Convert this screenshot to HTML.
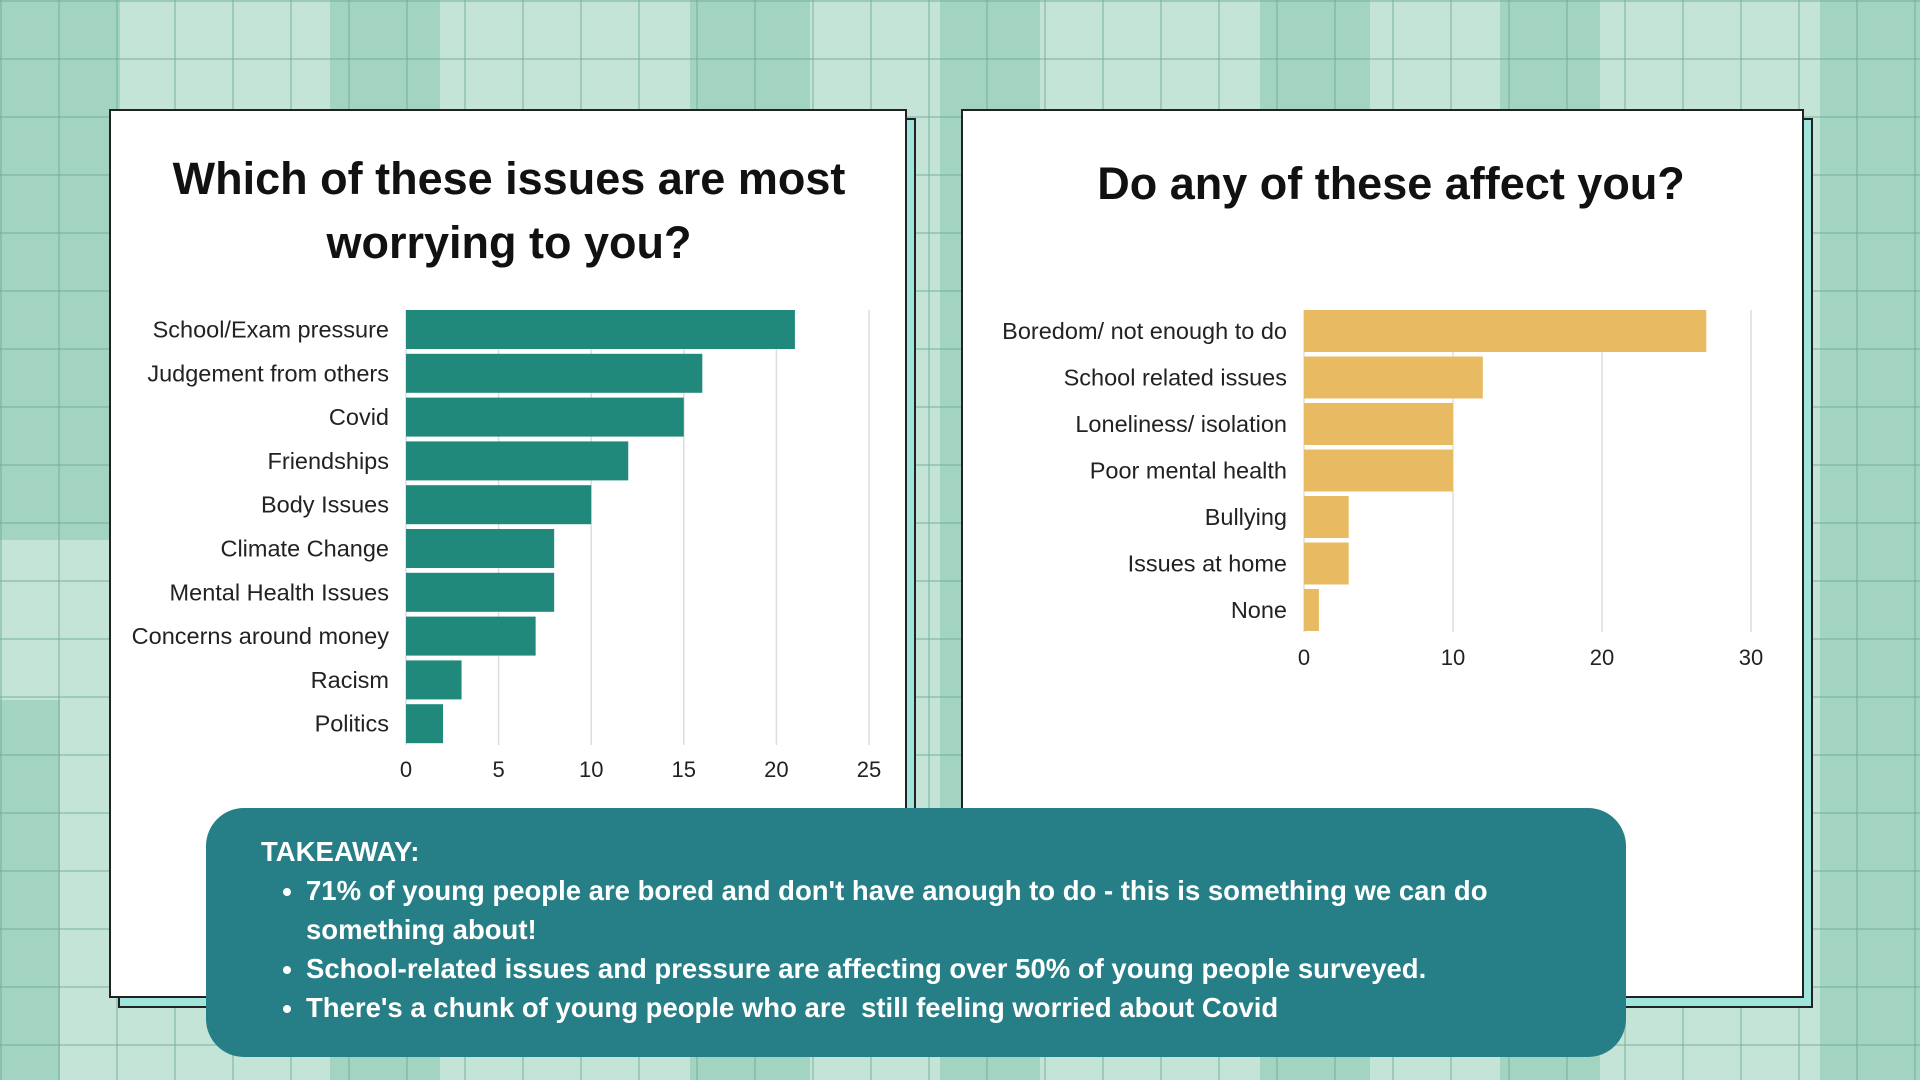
<!DOCTYPE html>
<html><head><meta charset="utf-8"><style>
body{margin:0;width:1920px;height:1080px;overflow:hidden;font-family:"Liberation Sans",sans-serif;}
#bg{position:absolute;left:0;top:0;width:1920px;height:1080px;background:#c4e4d8;}
.stripe{position:absolute;background:#a3d4c2;}
#grid{position:absolute;left:0;top:0;width:1920px;height:1080px;background-image:linear-gradient(to right,rgba(110,170,150,.45) 2px,transparent 2px),linear-gradient(to bottom,rgba(110,170,150,.45) 2px,transparent 2px);background-size:58px 58px;}
.shadow{position:absolute;background:#9fe5dc;border:2px solid #222;}
.panel{position:absolute;background:#fff;border:2px solid #222;}
.title{position:absolute;font-weight:bold;color:#111;text-align:center;font-size:45px;line-height:64px;}
svg text{font-family:"Liberation Sans",sans-serif;}
#take{position:absolute;left:206px;top:808px;width:1420px;height:249px;background:#267f87;border-radius:38px;color:#fff;font-weight:bold;font-size:27.5px;}
#take li{line-height:39px;}
</style></head><body>
<div id="bg">
<div class="stripe" style="left:0;top:0;width:120px;height:540px"></div>
<div class="stripe" style="left:330px;top:0;width:110px;height:1080px"></div>
<div class="stripe" style="left:690px;top:0;width:120px;height:1080px"></div>
<div class="stripe" style="left:940px;top:0;width:100px;height:1080px"></div>
<div class="stripe" style="left:1260px;top:0;width:110px;height:1080px"></div>
<div class="stripe" style="left:1500px;top:0;width:100px;height:1080px"></div>
<div class="stripe" style="left:1820px;top:0;width:100px;height:1080px"></div>
<div class="stripe" style="left:0;top:700px;width:60px;height:380px"></div>
</div>
<div id="grid"></div>

<div class="shadow" style="left:118px;top:118px;width:794px;height:886px"></div>
<div class="panel" style="left:109px;top:109px;width:794px;height:885px"></div>
<div class="shadow" style="left:970px;top:118px;width:839px;height:886px"></div>
<div class="panel" style="left:961px;top:109px;width:839px;height:885px"></div>

<div class="title" style="left:109px;top:147px;width:800px">Which of these issues are most<br>worrying to you?</div>
<div class="title" style="left:961px;top:152px;width:860px">Do any of these affect you?</div>

<svg id="chart" width="1920" height="1080" style="position:absolute;left:0;top:0"></svg>

<div id="take">
<div style="position:absolute;left:55px;top:28px">TAKEAWAY:</div>
<ul style="position:absolute;top:63px;padding-left:101px;width:1250px;left:-101px;margin:0 0 0 100px">
<li>71% of young people are bored and don't have anough to do - this is something we can do something about!</li>
<li>School-related issues and pressure are affecting over 50% of young people surveyed.</li>
<li>There's a chunk of young people who are &nbsp;still feeling worried about Covid</li>
</ul>
</div>

<script>
const leftCategories=["School/Exam pressure","Judgement from others","Covid","Friendships","Body Issues","Climate Change","Mental Health Issues","Concerns around money","Racism","Politics"];
const leftValues=[21,16,15,12,10,8,8,7,3,2];
const leftTicks=[0,5,10,15,20,25];
const rightCategories=["Boredom/ not enough to do","School related issues","Loneliness/ isolation","Poor mental health","Bullying","Issues at home","None"];
const rightValues=[27,12,10,10,3,3,1];
const rightTicks=[0,10,20,30];

const svg=document.getElementById('chart');
const NS='http://www.w3.org/2000/svg';
function mk(t,a){const e=document.createElementNS(NS,t);for(const k in a)e.setAttribute(k,a[k]);svg.appendChild(e);return e;}
function draw(cfg,cats,vals,ticks,pfx){
  const sx=v=>cfg.x0+(v-ticks[0])/(ticks[ticks.length-1]-ticks[0])*(cfg.x1-cfg.x0);
  ticks.forEach(t=>{
    const g=mk('line',{x1:sx(t),x2:sx(t),y1:cfg.top,y2:cfg.gridBottom,stroke:'#ddd','stroke-width':1.5});
    
    
    const l=mk('text',{x:sx(t),y:cfg.tickY,'text-anchor':'middle','font-size':22,fill:'#222'});
    l.textContent=t;
    
    
  });
  cats.forEach((c,i)=>{
    const y=cfg.top+i*cfg.pitch;
    const r=mk('rect',{x:sx(0),y:y,width:sx(vals[i])-sx(0),height:cfg.bh,fill:cfg.color});
    
    
    const t=mk('text',{x:sx(0)-17,y:y+cfg.bh/2+8,'text-anchor':'end','font-size':23.5,fill:'#222'});
    t.textContent=c;
    
    
  });
}
draw({x0:406,x1:869,top:310,pitch:43.8,bh:39,gridBottom:745,tickY:777,color:'#21897c'},leftCategories,leftValues,leftTicks,'left');
draw({x0:1304,x1:1751,top:310,pitch:46.5,bh:42,gridBottom:632,tickY:665,color:'#e8bb62'},rightCategories,rightValues,rightTicks,'right');
</script>
</body></html>
